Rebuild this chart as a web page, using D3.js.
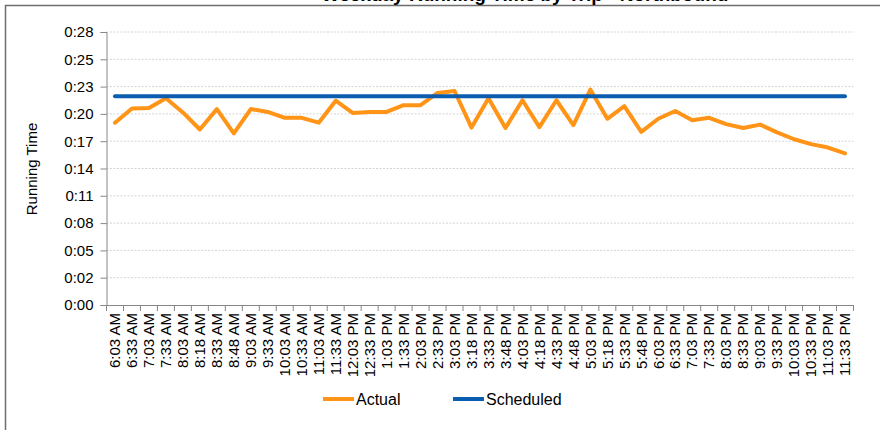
<!DOCTYPE html>
<html><head><meta charset="utf-8">
<script src="https://cdn.jsdelivr.net/npm/d3@7"></script>
<style>body{margin:0;background:#fff} svg text{font-family:Arial,"Liberation Sans",sans-serif}</style>
</head><body>
<svg id="c" width="880" height="430"></svg>
<script>
const categories = ["6:03 AM","6:33 AM","7:03 AM","7:33 AM","8:03 AM","8:18 AM","8:33 AM","8:48 AM","9:03 AM","9:33 AM","10:03 AM","10:33 AM","11:03 AM","11:33 AM","12:03 PM","12:33 PM","1:03 PM","1:33 PM","2:03 PM","2:33 PM","3:03 PM","3:18 PM","3:33 PM","3:48 PM","4:03 PM","4:18 PM","4:33 PM","4:48 PM","5:03 PM","5:18 PM","5:33 PM","5:48 PM","6:03 PM","6:33 PM","7:03 PM","7:33 PM","8:03 PM","8:33 PM","9:03 PM","9:33 PM","10:03 PM","10:33 PM","11:03 PM","11:33 PM"];
// running time in minutes
const actual = [18.7,20.15,20.2,21.2,19.75,18.0,20.1,17.6,20.1,19.8,19.2,19.2,18.7,20.95,19.7,19.8,19.8,20.5,20.5,21.75,21.95,18.2,21.2,18.15,21.0,18.25,21.0,18.45,22.1,19.1,20.4,17.75,19.1,19.9,18.95,19.2,18.55,18.15,18.5,17.7,17.0,16.5,16.15,15.55];
const scheduled = [21.4,21.4,21.4,21.4,21.4,21.4,21.4,21.4,21.4,21.4,21.4,21.4,21.4,21.4,21.4,21.4,21.4,21.4,21.4,21.4,21.4,21.4,21.4,21.4,21.4,21.4,21.4,21.4,21.4,21.4,21.4,21.4,21.4,21.4,21.4,21.4,21.4,21.4,21.4,21.4,21.4,21.4,21.4,21.4];
const yTickValues = [0,2.8,5.6,8.4,11.2,14,16.8,19.6,22.4,25.2,28];
const yTickLabels = ["0:00","0:02","0:05","0:08","0:11","0:14","0:17","0:20","0:23","0:25","0:28"];
const seriesNames = ["Actual","Scheduled"];
const colors = ["#FF9416","#0B5EAF"];
const titleText = "Weekday Running Time by Trip - Northbound";
const yTitle = "Running Time";

const svg = d3.select("#c");
const L = 106.5, R = 853.5, T = 32, B = 305;
const x = d3.scaleBand().domain(categories).range([L, R]).padding(0);
const y = d3.scaleLinear().domain([0, 28]).range([B, T]);

// frame
svg.append("rect").attr("x",5.5).attr("y",5.5).attr("width",900).attr("height",440)
  .attr("fill","none").attr("stroke","#6e6e6e").attr("stroke-width",1.5);
// title (mostly cut off at top, as in the reference)
svg.append("text").attr("x",525).attr("y",1).attr("text-anchor","middle")
  .attr("font-size",19).attr("font-weight","bold").attr("fill","#000").text(titleText);

// gridlines
svg.append("g").selectAll("line").data(yTickValues.slice(1)).join("line")
  .attr("x1",L).attr("x2",R).attr("y1",d=>y(d)).attr("y2",d=>y(d))
  .attr("stroke","#d4d4d4").attr("stroke-width",1).attr("stroke-dasharray","2,1.5");

// y axis
const yAxis = d3.axisLeft(y).tickValues(yTickValues).tickFormat((d,i)=>yTickLabels[i]).tickSize(6).tickPadding(7);
const gy = svg.append("g").attr("transform",`translate(${L},0)`).call(yAxis);
gy.select(".domain").attr("stroke","#868686");
gy.selectAll(".tick line").attr("stroke","#868686");
gy.selectAll("text").attr("font-size",15).attr("fill","#000").attr("font-family","Arial, 'Liberation Sans', sans-serif");

// x axis
const xAxis = d3.axisBottom(x).tickSize(0).tickSizeOuter(0);
const gx = svg.append("g").attr("transform",`translate(0,${B})`).call(xAxis);
gx.select(".domain").attr("stroke","#868686");
gx.selectAll("text").attr("font-size",15).attr("fill","#000")
  .attr("font-family","Arial, 'Liberation Sans', sans-serif")
  .attr("transform","rotate(-90)").attr("text-anchor","end")
  .attr("x",-8).attr("y",0).attr("dy","0.35em");
// boundary ticks
const bounds = categories.map(c=>x(c)).concat([R]);
svg.append("g").selectAll("line").data(bounds).join("line")
  .attr("x1",d=>d).attr("x2",d=>d).attr("y1",B).attr("y2",B+6)
  .attr("stroke","#868686");

// lines
const line = d3.line().x((d,i)=>x(categories[i])+x.bandwidth()/2).y(d=>y(d));
svg.append("path").datum(actual).attr("d",line).attr("fill","none")
  .attr("stroke",colors[0]).attr("stroke-width",4).attr("stroke-linejoin","round").attr("stroke-linecap","round");
svg.append("path").datum(scheduled).attr("d",line).attr("fill","none")
  .attr("stroke",colors[1]).attr("stroke-width",4).attr("stroke-linecap","round");

// y title
svg.append("text").attr("transform","translate(37,169) rotate(-90)").attr("text-anchor","middle")
  .attr("font-size",15).attr("fill","#000").text(yTitle);

// legend
const lg = svg.append("g");
const lx = [323, 453];
seriesNames.forEach((n,i)=>{
  lg.append("line").attr("x1",lx[i]).attr("x2",lx[i]+31).attr("y1",399).attr("y2",399)
    .attr("stroke",colors[i]).attr("stroke-width",4);
  lg.append("text").attr("x",lx[i]+33).attr("y",399).attr("dy","0.35em")
    .attr("font-size",16).attr("fill","#000").text(n);
});
</script>
</body></html>
